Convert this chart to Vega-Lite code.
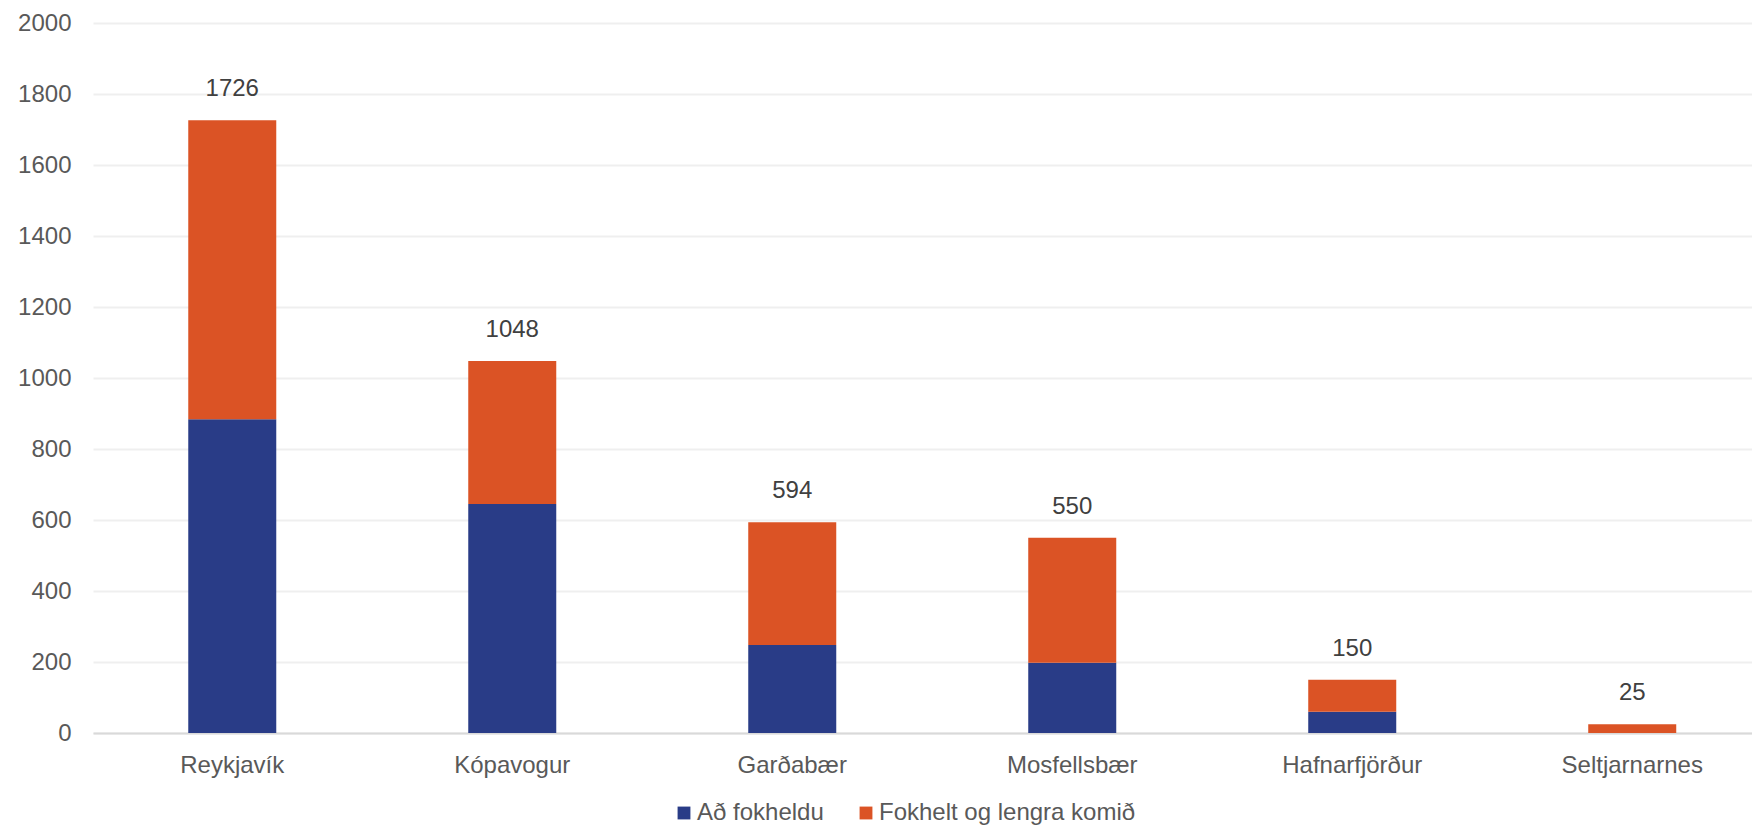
{
  "$schema": "https://vega.github.io/schema/vega-lite/v6.json",
  "width": 1659,
  "height": 710,
  "autosize": {"type": "none"},
  "padding": {"left": 93, "top": 23, "right": 0, "bottom": 93},
  "background": "white",
  "config": {
    "view": {"stroke": null},
    "font": "Liberation Sans"
  },
  "data": {
    "values": [
      {"svf": "Reykjavík", "flokkur": "Að fokheldu", "fjoldi": 884},
      {"svf": "Reykjavík", "flokkur": "Fokhelt og lengra komið", "fjoldi": 842},
      {"svf": "Kópavogur", "flokkur": "Að fokheldu", "fjoldi": 645},
      {"svf": "Kópavogur", "flokkur": "Fokhelt og lengra komið", "fjoldi": 403},
      {"svf": "Garðabær", "flokkur": "Að fokheldu", "fjoldi": 248},
      {"svf": "Garðabær", "flokkur": "Fokhelt og lengra komið", "fjoldi": 346},
      {"svf": "Mosfellsbær", "flokkur": "Að fokheldu", "fjoldi": 198},
      {"svf": "Mosfellsbær", "flokkur": "Fokhelt og lengra komið", "fjoldi": 352},
      {"svf": "Hafnarfjörður", "flokkur": "Að fokheldu", "fjoldi": 60},
      {"svf": "Hafnarfjörður", "flokkur": "Fokhelt og lengra komið", "fjoldi": 90},
      {"svf": "Seltjarnarnes", "flokkur": "Að fokheldu", "fjoldi": 0},
      {"svf": "Seltjarnarnes", "flokkur": "Fokhelt og lengra komið", "fjoldi": 25}
    ]
  },
  "encoding": {
    "x": {
      "field": "svf",
      "type": "nominal",
      "sort": ["Reykjavík", "Kópavogur", "Garðabær", "Mosfellsbær", "Hafnarfjörður", "Seltjarnarnes"],
      "scale": {"paddingInner": 0.6857, "paddingOuter": 0.3054, "align": 0.557},
      "axis": {
        "title": null,
        "labelAngle": 0,
        "labelFontSize": 24,
        "labelColor": "#595959",
        "labelPadding": 20,
        "ticks": false,
        "tickSize": 0,
        "domainColor": "#D9D9D9",
        "domainWidth": 2
      }
    }
  },
  "layer": [
    {
      "mark": {"type": "bar"},
      "encoding": {
        "y": {
          "field": "fjoldi",
          "type": "quantitative",
          "stack": "zero",
          "scale": {"domain": [0, 2000], "nice": false},
          "axis": {
            "title": null,
            "format": "d",
            "values": [0, 200, 400, 600, 800, 1000, 1200, 1400, 1600, 1800, 2000],
            "domain": false,
            "ticks": false,
            "tickSize": 0,
            "labelFontSize": 24,
            "labelColor": "#595959",
            "labelPadding": 22,
            "gridColor": "#EFEFEF",
            "gridWidth": 2
          }
        },
        "color": {
          "field": "flokkur",
          "type": "nominal",
          "scale": {
            "domain": ["Að fokheldu", "Fokhelt og lengra komið"],
            "range": ["#293C87", "#DB5325"]
          },
          "legend": {
            "title": null,
            "orient": "none",
            "direction": "horizontal",
            "legendX": 579,
            "legendY": 778,
            "symbolType": "square",
            "symbolSize": 165,
            "symbolStrokeWidth": 0,
            "labelFontSize": 24,
            "labelColor": "#595959",
            "labelOffset": 1,
            "columnPadding": 30,
            "labelLimit": 400
          }
        },
        "order": {"field": "flokkur", "sort": "ascending"}
      }
    },
    {
      "mark": {"type": "text", "baseline": "alphabetic", "dy": -24, "fontSize": 24, "color": "#404040"},
      "encoding": {
        "y": {"aggregate": "sum", "field": "fjoldi", "type": "quantitative"},
        "text": {"aggregate": "sum", "field": "fjoldi", "type": "quantitative"}
      }
    }
  ]
}
